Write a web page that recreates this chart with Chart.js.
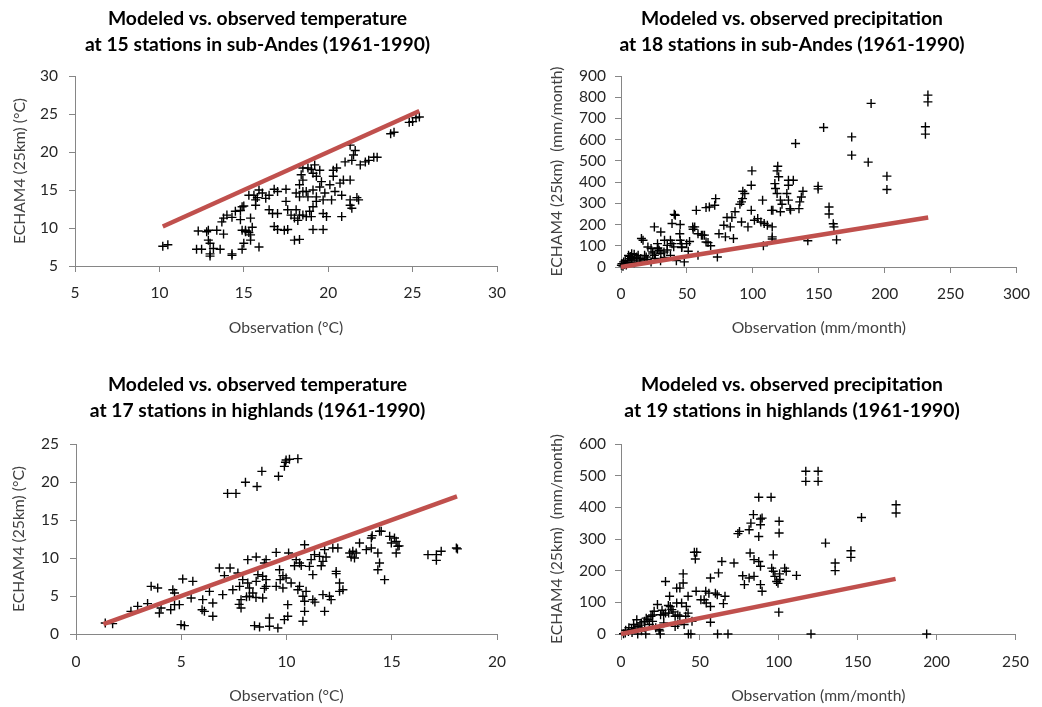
<!DOCTYPE html>
<html><head><meta charset="utf-8">
<script src="https://cdn.jsdelivr.net/npm/chart.js@4.4.0/dist/chart.umd.min.js"></script>
<style>
html,body{margin:0;padding:0;background:#fff;width:1042px;height:707px;overflow:hidden}
canvas{position:absolute;display:block}
</style></head><body>
<canvas id="c1" width="521" height="353" style="left:0;top:0"></canvas>
<canvas id="c2" width="521" height="353" style="left:521px;top:0"></canvas>
<canvas id="c3" width="521" height="341" style="left:0;top:366px"></canvas>
<canvas id="c4" width="521" height="341" style="left:521px;top:366px"></canvas>
<script>
// ---------- DATA ----------
const titleSubAndesTemp = ["Modeled vs. observed temperature", "at 15 stations in sub-Andes (1961-1990)"];
const titleSubAndesPrec = ["Modeled vs. observed precipitation", "at 18 stations in sub-Andes (1961-1990)"];
const titleHighTemp = ["Modeled vs. observed temperature", "at 17 stations in highlands (1961-1990)"];
const titleHighPrec = ["Modeled vs. observed precipitation", "at 19 stations in highlands (1961-1990)"];

const xTitleTemp = "Observation (°C)";
const xTitlePrec = "Observation (mm/month)";
const yTitleTemp = "ECHAM4 (25km) (°C)";
const yTitlePrec = "ECHAM4 (25km)  (mm/month)";

// sub-Andes temperature: observed (x) and modeled (y)
const subAndesTempObs = [10.2,10.5,12.3,12.8,12.9,13.4,13.8,12.9,13.0,12.2,12.5,13.2,13.6,13.0,13.0,14.3,14.3,14.9,15.0,15.4,15.9,14.9,15.1,15.3,15.1,15.5,15.4,13.7,13.8,14.0,14.3,14.5,14.8,14.9,15.0,14.8,15.4,15.3,15.6,15.7,15.7,15.8,15.9,16.1,16.3,16.5,16.8,17.0,17.5,17.5,16.5,16.7,17.0,16.8,17.0,17.4,17.6,17.6,17.8,18.0,18.1,18.3,18.5,18.7,18.2,18.0,18.3,18.1,18.3,18.5,18.7,18.8,18.3,18.5,18.4,18.5,18.8,19.0,19.2,19.1,19.3,19.5,19.6,19.5,19.1,19.3,19.3,19.1,18.9,19.0,19.1,19.7,19.9,19.7,19.7,19.8,20.1,20.3,20.3,20.5,20.7,20.4,20.2,20.8,20.9,21.3,20.8,21.3,21.3,21.4,21.8,21.7,21.0,21.4,21.5,21.6,21.3,21.9,22.2,22.4,22.7,22.9,23.7,23.9,24.8,25.0,25.2,25.4];
const subAndesTempMod = [7.6,7.8,9.6,9.5,9.7,9.7,9.2,8.4,8.0,7.2,7.2,7.3,7.2,6.3,6.6,6.4,6.6,7.2,8.0,8.4,7.5,9.7,9.7,9.4,9.5,10.1,9.1,10.8,11.3,11.7,11.4,12.2,12.3,12.8,12.9,11.1,11.3,14.3,14.3,13.7,13.0,14.0,15.0,14.6,13.9,14.3,15.1,14.8,15.1,13.5,12.4,11.9,11.9,10.2,9.8,9.7,9.8,12.4,11.7,11.3,12.4,11.7,11.7,11.5,11.0,8.4,8.5,14.6,14.1,14.8,14.8,14.1,15.7,16.3,17.0,17.9,17.9,17.7,18.3,17.2,16.8,17.6,16.1,15.4,15.0,14.1,13.5,12.8,12.2,11.5,9.8,9.8,11.5,11.9,13.7,14.6,15.7,16.8,17.6,17.9,15.9,14.8,13.7,14.3,16.3,16.3,11.5,13.7,13.0,12.6,13.7,14.0,18.7,18.9,19.6,20.2,20.9,18.3,18.7,18.9,19.3,19.3,22.4,22.6,23.9,24.0,24.5,24.6];
const subAndesTempLine = [10.2, 25.4];

// sub-Andes precipitation (mm/month)
const subAndesPrecObs = [232.8,232.8,230.9,230.9,189.7,175,175,187.5,201.7,201.7,153.7,132.4,149.5,149.5,157.8,157.8,161,161.5,163.5,141.7,99.3,98.8,118.9,118.4,119.6,127,130.7,127,138,136.8,135.6,135,116.7,117.2,118.4,120.9,122.1,120.9,114.2,115.2,125.8,127,128.2,128.6,114.7,114.7,108,92.2,91.4,90.2,93.9,92.4,98.8,107.4,101.2,103.7,106.1,108.6,111,114.7,96.3,91.4,86.5,80.4,84.1,78,82.9,85.3,79.2,74.3,73.1,71.8,71.1,64.5,67,57.1,55.9,54.7,58.4,63.3,64.5,61,49.8,44.9,46.1,51,58.4,41.2,38.7,44.9,30.2,25.3,37.5,38.7,35.1,33,15.5,16.7,27.7,27.7,28.9,30.2,32.6,20.4,22.8,24,25.3,17.9,19.1,13,11.8,8.1,5.7,6.9,3.2,2,0.75,0.3,37.5,22.8,30,42,48,10,14,18,26,33,4,6,9,12,1.5,2.5,5,8,10,7,15,20,24,28,35,40,46,52,62,66,68,40.4,44.6,45.8,54.4];
const subAndesPrecMod = [810,778,661,626,771,613,527,494,428,365,657,582,380,368,283,250,204,189,128,124,453,385,475,453,425,409,409,385,357,330,307,275,393,370,346,315,296,260,267,267,346,315,275,268,142,132,100,322,307,296,346,357,267,315,220,228,212,205,197,189,189,212,260,233,233,197,189,134,142,157,47,322,291,280,283,267,189,178,157,150,118,150,110,126,94,74,55,244,205,200,165,189,126,110,102,126,134,126,110,87,79,63,71,94,87,71,55,55,47,55,47,63,55,39,31,24,16,8,55,24,30,30,24,20,28,35,40,45,10,20,33,40,4,12,30,45,60,50,40,35,62,90,80,95,92,120,150,115,100,248,157,110,189];
const subAndesPrecLine = [0, 233];

// highlands temperature
const highTempObs = [7.2,7.6,8.05,8.6,8.83,9.62,9.9,9.95,9.98,10.14,10.54,1.39,1.74,2.61,2.93,3.4,4.04,3.96,4.5,4.68,4.6,4.68,3.57,3.88,5.07,5.55,4.99,5.15,4.91,5.47,6.02,5.99,6.1,6.5,6.5,6.97,6.34,7.45,7.77,7.92,6.81,7.32,7.05,7.69,7.84,7.84,7.75,8.16,8.56,9.03,8.95,8.64,8.56,8.87,9.03,9.03,8.16,8.24,8.4,8.24,8.87,8.55,8.1,8.95,9.51,10.1,10.86,10.46,10.62,10.7,10.38,9.67,9.83,9.7,9.98,10.22,9.51,9.83,10.62,10.54,10.93,11.25,11.09,11.17,11.33,11.57,11.73,11.65,11.81,12.2,12.44,11.88,10.78,10.86,10.86,10.78,11.25,11.35,11.73,12.04,12.12,12.52,12.68,11.81,10.06,10.06,9.9,9.19,9.19,8.72,8.48,9.59,12.36,12.36,12.52,13.0,13.15,13.31,13.23,13.07,13.47,13.79,14.03,14.03,14.07,14.42,14.5,14.34,14.42,14.34,14.66,14.9,15.13,15.21,14.98,15.29,15.35,15.21,16.72,17.12,17.12,17.35,18.07,18.12];
const highTempMod = [18.5,18.5,19.96,19.4,21.4,20.75,22.06,22.6,22.9,23.0,23.07,1.45,1.36,2.98,3.64,4.0,3.42,2.76,3.2,3.86,5.83,5.4,6.27,6.05,7.24,6.93,1.23,1.1,3.86,4.74,4.52,3.2,2.98,2.33,4.08,5.18,5.61,5.83,6.27,7.15,8.68,8.68,7.68,8.03,4.52,3.42,3.9,9.78,10.13,9.78,9.34,7.81,6.93,7.59,7.15,6.27,6.71,6.05,5.39,4.96,4.74,4.8,4.9,6.0,10.74,10.66,11.75,9.78,9.34,9.0,8.99,8.46,7.68,7.15,7.37,6.71,6.27,6.05,6.27,5.83,5.61,7.81,8.9,9.78,10.44,10.22,9.56,8.99,11.1,11.32,11.32,10.13,4.96,4.3,2.98,1.67,4.52,4.2,5.18,4.96,4.52,5.61,5.83,2.98,3.86,2.33,1.89,2.11,1.01,0.92,1.1,0.79,8.24,7.94,6.71,10.66,10.88,10.66,10.0,10.13,11.97,11.1,11.32,12.63,12.94,13.51,13.51,10.66,9.34,8.46,7.15,12.85,12.63,12.19,11.97,11.54,11.6,10.66,10.44,10.44,9.69,10.88,11.32,11.2];
const highTempLine = [1.3, 18.1];

// highlands precipitation (mm/month)
const highPrecObs = [117.1,117.1,124.9,124.9,87.3,95.1,174.3,174.3,152.4,129.6,145.7,145.7,135.7,135.7,120.4,193.7,67.8,61.2,42.7,44.3,24.9,10.6,15.7,111.2,100,83.9,82.3,81.2,75.1,74.1,88.4,89.4,88.4,87.3,100.2,100.2,81.8,84.3,87.3,88.4,84.3,81.2,77.1,78.2,96.5,95.5,96.5,97.5,98.6,100.6,99.5,103.7,104.7,100.5,88.4,89.4,71.6,63.9,61.8,56.7,55.7,59.8,61,65.9,64.9,53.7,52.7,56.7,56.7,47.6,42.5,39.4,39.4,37.3,35.3,28.2,30.8,46.5,48,47.1,50.6,54,41.4,38.4,35.3,31.2,30.2,28.2,27,25.1,23.1,21,19,17,14.9,12.9,10.8,8.8,6.7,4.7,2.7,1.6,32.2,34.3,37.3,42.5,41,34.3,36,27.1,24.1,24.5,5,8,10,12,15,18,20,22,3,7,13,16,20,26,30,33,36,45,40];
const highPrecMod = [514,482,514,482,432,432,408,382,368,287,263,242,224,200,0,0,0,0,0,0,0,0,0,185,69,377,350,329,324,317,363,366,345,308,356,319,256,235,229,214,182,177,184,156,250,208,198,182,166,172,160,208,198,190,156,135,224,229,193,177,129,129,124,119,96,135,108,87,37,135,119,190,161,145,145,166,119,258,258,237,108,98,87,98,98,87,66,66,60,61,93,72,56,45,40,35,24,19,14,8,3,1,77,56,56,66,56,24,30,35,14,10,20,30,45,28,20,30,40,20,12,5,10,50,60,75,90,70,60,40,30];
const highPrecLine = [0, 174];

// axis ranges / ticks
const axesTempSub = {xMin:5, xMax:30, xStep:5, yMin:5, yMax:30, yStep:5};
const axesPrecSub = {xMin:0, xMax:300, xStep:50, yMin:0, yMax:900, yStep:100};
const axesTempHigh = {xMin:0, xMax:20, xStep:5, yMin:0, yMax:25, yStep:5};
const axesPrecHigh = {xMin:0, xMax:250, xStep:50, yMin:0, yMax:600, yStep:100};

// ---------- DRAWING ----------
const FONT = "Lato, 'Open Sans', sans-serif";
function pts(xs, ys){ return xs.map((x,i)=>({x:x, y:ys[i]})); }

function makeChart(id, title, xt, yt, obs, mod, line, ax, L){
  new Chart(document.getElementById(id), {
    type: 'scatter',
    data: { datasets: [
      { type:'line', data: pts(line, line), borderColor:'#c0504d', borderWidth:4.5, pointRadius:0, fill:false, clip:false, borderCapStyle:'butt' },
      { data: pts(obs, mod), pointStyle:'cross', pointRadius:4.5, pointHoverRadius:4.5, borderColor:'#000', backgroundColor:'#000', borderWidth:1.4, clip:false }
    ]},
    options: {
      responsive:false, animation:false, devicePixelRatio:1,
      layout:{ padding:{ left:L.padL, top:0, right:L.padR, bottom:0 } },
      plugins:{
        legend:{display:false}, tooltip:{enabled:false},
        title:{ display:true, text:title, color:'#000',
          font:{ family:FONT, size:19.3, weight:'bold', lineHeight:'26px' },
          padding:{ top:L.tTop, bottom:L.tBot } }
      },
      scales:{
        x:{ type:'linear', position:'bottom', min:ax.xMin, max:ax.xMax,
          afterFit:(s)=>{ s.height = L.xH; },
          ticks:{ stepSize:ax.xStep, autoSkip:false, color:'#262626', padding:L.xPad, font:{family:FONT, size:15.5}, maxRotation:0 },
          grid:{ drawOnChartArea:false, drawTicks:true, tickLength:6, color:'#868686' },
          border:{ display:true, color:'#868686', width:1 },
          title:{ display:true, text:xt, color:'#404040', font:{family:FONT, size:15.7}, padding:{top:0, bottom:L.xTPad} } },
        y:{ type:'linear', position:'left', min:ax.yMin, max:ax.yMax,
          afterFit:(s)=>{ s.width = L.yW; },
          ticks:{ stepSize:ax.yStep, autoSkip:false, color:'#262626', padding:L.yPad, font:{family:FONT, size:15.5} },
          grid:{ drawOnChartArea:false, drawTicks:true, tickLength:6, color:'#868686' },
          border:{ display:true, color:'#868686', width:1 },
          title:{ display:true, text:yt, color:'#404040', font:{family:FONT, size:15.7}, padding:{top:L.yTPad, bottom:0} } }
      }
    }
  });
}

makeChart('c1', titleSubAndesTemp, xTitleTemp, yTitleTemp, subAndesTempObs, subAndesTempMod, subAndesTempLine, axesTempSub,
  {padL:18, padR:24, tTop:6, tBot:18, xH:87, xPad:12, xTPad:16, yW:57, yPad:11, yTPad:-7.4});
makeChart('c2', titleSubAndesPrec, xTitlePrec, yTitlePrec, subAndesPrecObs, subAndesPrecMod, subAndesPrecLine, axesPrecSub,
  {padL:34, padR:13, tTop:6, tBot:18, xH:86, xPad:12, xTPad:16, yW:66, yPad:9, yTPad:-7.4});
makeChart('c3', titleHighTemp, xTitleTemp, yTitleTemp, highTempObs, highTempMod, highTempLine, axesTempHigh,
  {padL:18, padR:24, tTop:6, tBot:20, xH:73, xPad:13, xTPad:2, yW:58, yPad:11, yTPad:-8.4});
makeChart('c4', titleHighPrec, xTitlePrec, yTitlePrec, highPrecObs, highPrecMod, highPrecLine, axesPrecHigh,
  {padL:34, padR:13, tTop:6, tBot:20, xH:73, xPad:13, xTPad:2, yW:66, yPad:9, yTPad:-7.4});
</script>
</body></html>
